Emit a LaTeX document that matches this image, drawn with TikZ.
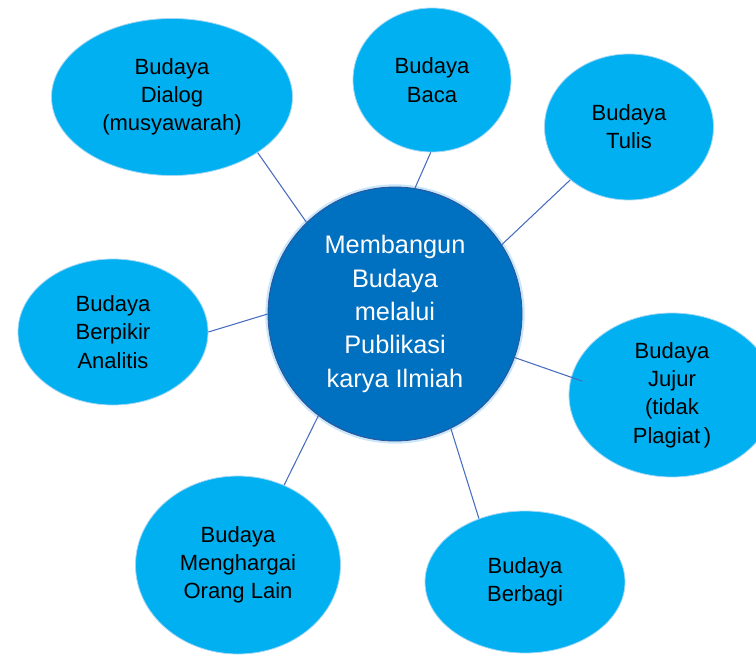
\documentclass[tikz,border=0pt]{standalone}
\usepackage{fontspec}
\setmainfont{Liberation Sans}
\usetikzlibrary{shapes.geometric}
\definecolor{biruMuda}{RGB}{0,176,240}
\definecolor{biruTua}{RGB}{0,112,192}
\definecolor{garisBiru}{RGB}{72,108,192}
\definecolor{tepiTua}{RGB}{50,80,150}
\definecolor{cahaya}{RGB}{165,215,245}
\tikzset{
    budaya/.style={ellipse, fill=biruMuda, draw=cahaya, line width=0.6pt, inner sep=0pt,
        align=center, font=\fontsize{16.5}{21.2}\selectfont},
    pusat/.style={circle, fill=biruTua, draw=tepiTua, line width=0.6pt, inner sep=0pt,
        minimum size=190.5pt, align=center, text=white, font=\fontsize{19}{25}\selectfont,
        preaction={draw=cahaya, line width=4pt, opacity=0.6}},
    garis/.style={draw=garisBiru, line width=0.8pt},
}
\begin{document}
\begin{tikzpicture}[x=0.75pt, y=-0.75pt]
\useasboundingbox (0,0) rectangle (756,657);

\node[pusat] (pusat) at (395,314) {Membangun\\Budaya\\melalui\\Publikasi\\karya Ilmiah};

\node[budaya, minimum width=180.75pt, minimum height=117.75pt] (dialog) at (172,97) {Budaya\\Dialog\\(musyawarah)};
\node[budaya, minimum width=118.5pt, minimum height=108pt] (baca) at (432,80) {Budaya\\Baca};
\node[budaya, minimum width=126.75pt, minimum height=109.5pt] (tulis) at (629,127) {Budaya\\Tulis};
\node[budaya, minimum width=142.5pt, minimum height=109.5pt] (berpikir) at (113,332) {Budaya\\Berpikir\\Analitis};
\node[budaya, minimum width=154.5pt, minimum height=123pt] (jujur) at (672,395) {Budaya\\Jujur\\(tidak\\Plagiat\,)};
\node[budaya, minimum width=150pt, minimum height=106.5pt] (berbagi) at (525,582) {Budaya\\Berbagi};
\node[budaya, minimum width=153.75pt, minimum height=133.5pt] (menghargai) at (238,565) {Budaya\\Menghargai\\Orang Lain};

\draw[garis] (pusat.134.7) -- (dialog.-33);
\draw[garis] (pusat.81.5) -- (baca.-91);
\draw[garis] (pusat.33.4) -- (tulis.-138.6);
\draw[garis] (pusat.180) -- (berpikir.0);
\draw[garis, shorten >=-9pt] (pusat.-20.4) -- (jujur.170.6);
\draw[garis] (pusat.-64.8) -- (berbagi.126.6);
\draw[garis] (pusat.-127.5) -- (menghargai.60.8);
\end{tikzpicture}
\end{document}
